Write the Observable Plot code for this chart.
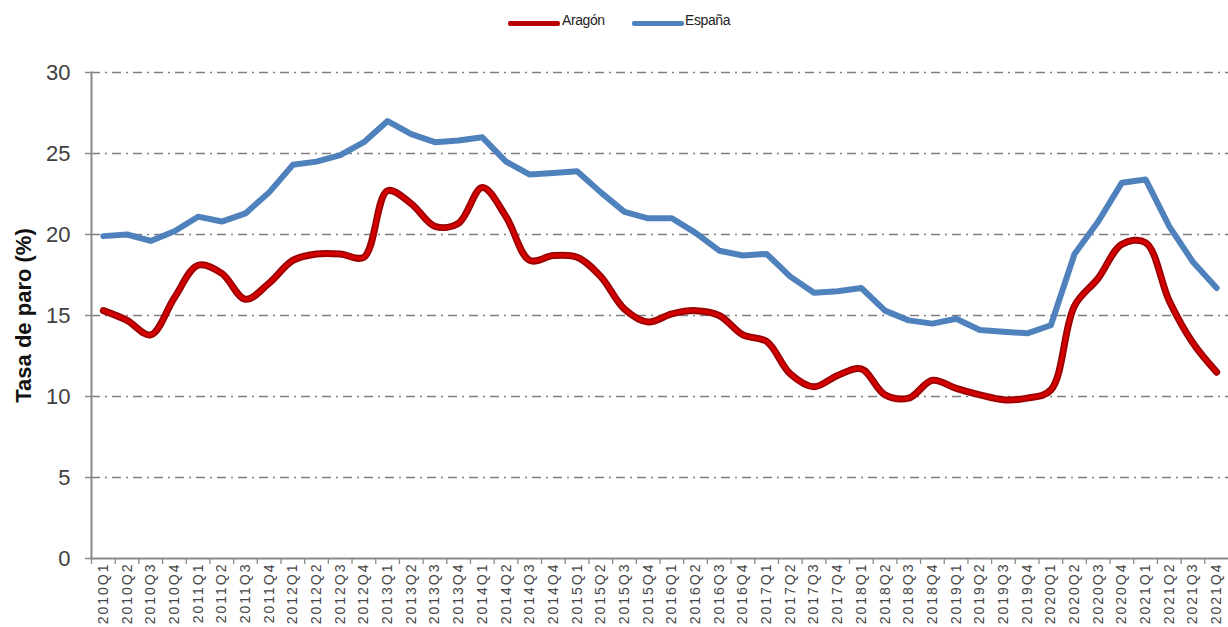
<!DOCTYPE html>
<html>
<head>
<meta charset="utf-8">
<script src="https://cdn.jsdelivr.net/npm/d3@7"></script>
<script src="https://cdn.jsdelivr.net/npm/@observablehq/plot@0.6"></script>
<style>
  html, body { margin: 0; padding: 0; background: #fff; width: 1228px; height: 627px; overflow: hidden; }
  body { font-family: "Liberation Sans", Arial, sans-serif; }
  #legend { position: relative; height: 46px; width: 1228px; }
  .sw { position: absolute; top: 21px; width: 52px; height: 5px; border-radius: 2px; }
  .lt { position: absolute; top: 12px; font-size: 14px; color: #222; letter-spacing: -0.4px; font-stretch: condensed; }
  #chart svg g[aria-label="x-axis tick label"] text { letter-spacing: 2px; }
</style>
</head>
<body>
<div id="legend">
  <div class="sw" style="left:508px;background:#b80000;"></div><div class="lt" style="left:562px;">Aragón</div>
  <div class="sw" style="left:632px;background:#4f81bd;"></div><div class="lt" style="left:685px;">España</div>
</div>
<div id="chart"></div>
<script>
const quarters = [];
for (let y = 2010; y <= 2021; y++) for (let q = 1; q <= 4; q++) quarters.push(y + "Q" + q);

const espana = [19.9, 20.0, 19.6, 20.2, 21.1, 20.8, 21.3, 22.6, 24.3, 24.5, 24.9, 25.7,
                27.0, 26.2, 25.7, 25.8, 26.0, 24.5, 23.7, 23.8, 23.9, 22.6, 21.4, 21.0,
                21.0, 20.1, 19.0, 18.7, 18.8, 17.4, 16.4, 16.5, 16.7, 15.3, 14.7, 14.5,
                14.8, 14.1, 14.0, 13.9, 14.4, 18.8, 20.8, 23.2, 23.4, 20.5, 18.3, 16.7];
const aragon = [15.3, 14.7, 13.8, 16.1, 18.1, 17.6, 16.0, 17.0, 18.4, 18.8, 18.8, 18.6,
                22.7, 21.9, 20.5, 20.7, 22.9, 21.1, 18.4, 18.7, 18.6, 17.4, 15.4, 14.6,
                15.1, 15.3, 15.0, 13.8, 13.4, 11.4, 10.6, 11.3, 11.7, 10.1, 9.9, 11.0,
                10.5, 10.1, 9.8, 9.9, 10.4, 15.6, 17.3, 19.4, 19.5, 15.9, 13.3, 11.5];
const yTicks = [0, 5, 10, 15, 20, 25, 30];
const gridTicks = [5, 10, 15, 20, 25, 30];

const dEsp = quarters.map((q, i) => ({q, v: espana[i]}));
const dAra = quarters.map((q, i) => ({q, v: aragon[i]}));

const W = 1228, H = 581, mL = 91, mR = 0, mT = 26, mB = 69;
const step = (W - mL - mR) / quarters.length;

const chart = Plot.plot({
  width: W, height: H,
  marginLeft: mL, marginRight: mR, marginTop: mT, marginBottom: mB,
  style: {fontFamily: "'Liberation Sans', Arial, sans-serif", background: "#fff", overflow: "visible"},
  x: {type: "point", domain: quarters, padding: 0.5},
  y: {domain: [0, 30]},
  marks: [
    Plot.ruleY(gridTicks, {stroke: "#7f7f7f", strokeWidth: 1.6, strokeDasharray: "9,5,2,5"}),
    Plot.axisY(yTicks, {tickSize: 6, stroke: "#8a8a8a", strokeWidth: 1.5, fontSize: 22, fill: "#404040", tickPadding: 15, label: null}),
    Plot.axisX({tickSize: 0, tickRotate: -90, fontSize: 14, fill: "#444", tickPadding: 4, label: null}),
    Plot.axisX({tickSize: 6, stroke: "#8a8a8a", strokeWidth: 1.3, tickFormat: null, dx: -step / 2, label: null}),
    Plot.frame({anchor: "left", stroke: "#8a8a8a", strokeWidth: 2}),
    Plot.frame({anchor: "bottom", stroke: "#8a8a8a", strokeWidth: 2}),
    Plot.text(["Tasa de paro (%)"], {frameAnchor: "left", textAnchor: "middle", dx: -68, rotate: -90, fontWeight: "bold", fontSize: 22, fill: "#111"}),
    Plot.line(dEsp, {x: "q", y: "v", stroke: "#4f81bd", strokeWidth: 6, strokeLinejoin: "round", strokeLinecap: "round"}),
    Plot.line(dAra, {x: "q", y: "v", stroke: "#9a0000", strokeWidth: 7, curve: "catmull-rom", strokeLinejoin: "round", strokeLinecap: "round"}),
    Plot.line(dAra, {x: "q", y: "v", stroke: "#d40000", strokeWidth: 3.5, curve: "catmull-rom", strokeLinejoin: "round", strokeLinecap: "round"})
  ]
});
document.getElementById("chart").appendChild(chart);
</script>
</body>
</html>
